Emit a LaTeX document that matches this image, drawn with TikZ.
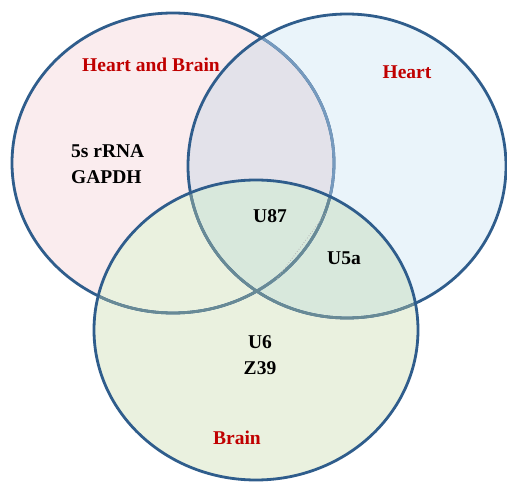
\documentclass[tikz,border=0pt]{standalone}
\usepackage{fontspec}
\setmainfont{Liberation Serif}
\definecolor{rimblue}{RGB}{47,93,140}
\definecolor{rimunderR}{RGB}{118,154,190}
\definecolor{rimunderB}{RGB}{104,138,150}
\definecolor{setpink}{RGB}{250,236,238}
\definecolor{setblue}{RGB}{234,244,250}
\definecolor{setgreen}{RGB}{234,241,223}
\definecolor{lrmix}{RGB}{227,226,234}
\definecolor{rbmix}{RGB}{216,232,220}
\definecolor{labred}{RGB}{192,0,0}
\def\Lset{(173,163) ellipse [x radius=161pt, y radius=150pt]}
\def\Rset{(347,166) ellipse [x radius=159pt, y radius=152pt]}
\def\Bset{(256,330) ellipse [x radius=162pt, y radius=150pt]}
\tikzset{
  rim/.style={line width=2.8pt},
  setname/.style={text=labred, font=\fontsize{19.5}{24}\selectfont\bfseries, inner sep=0pt},
  item/.style={text=black, font=\fontsize{19.5}{26}\selectfont\bfseries, inner sep=0pt}
}
\begin{document}
\begin{tikzpicture}[x=1pt,y=-1pt]
\useasboundingbox[fill=white] (0,0) rectangle (507,482);
% fills
\fill[setpink] \Lset;
\fill[setblue] \Rset;
\begin{scope}
  \clip \Lset;
  \fill[lrmix] \Rset;
\end{scope}
\fill[setgreen] \Bset;
\begin{scope}
  \clip \Bset;
  \fill[rbmix] \Rset;
\end{scope}
% rims
\draw[rim, rimblue] \Lset;
\begin{scope}
  \clip \Rset;
  \draw[rim, rimunderR] \Lset;
\end{scope}
\draw[rim, rimblue] \Rset;
\begin{scope}
  \clip \Bset;
  \draw[rim, rimunderB] \Lset;
  \draw[rim, rimunderB] \Rset;
\end{scope}
\draw[rim, rimblue] \Bset;
% faint dotted trace
\coordinate (dotA) at (326,213);
\coordinate (dotB) at (276,280);
\draw[gray!60, dotted, line width=0.8pt] (dotA) -- (dotB);
% labels
\node[setname] (hb) at (151,65) {Heart and Brain};
\node[setname] (heart) at (407,72) {Heart};
\node[setname] (brain) at (237,438) {Brain};
\node[item, align=left, anchor=west] (left) at (71,164) {5s rRNA\\GAPDH};
\node[item] (u87) at (270,216) {U87};
\node[item] (u5a) at (344,258) {U5a};
\node[item, align=center] (bot) at (260,355) {U6\\Z39};
\end{tikzpicture}
\end{document}
